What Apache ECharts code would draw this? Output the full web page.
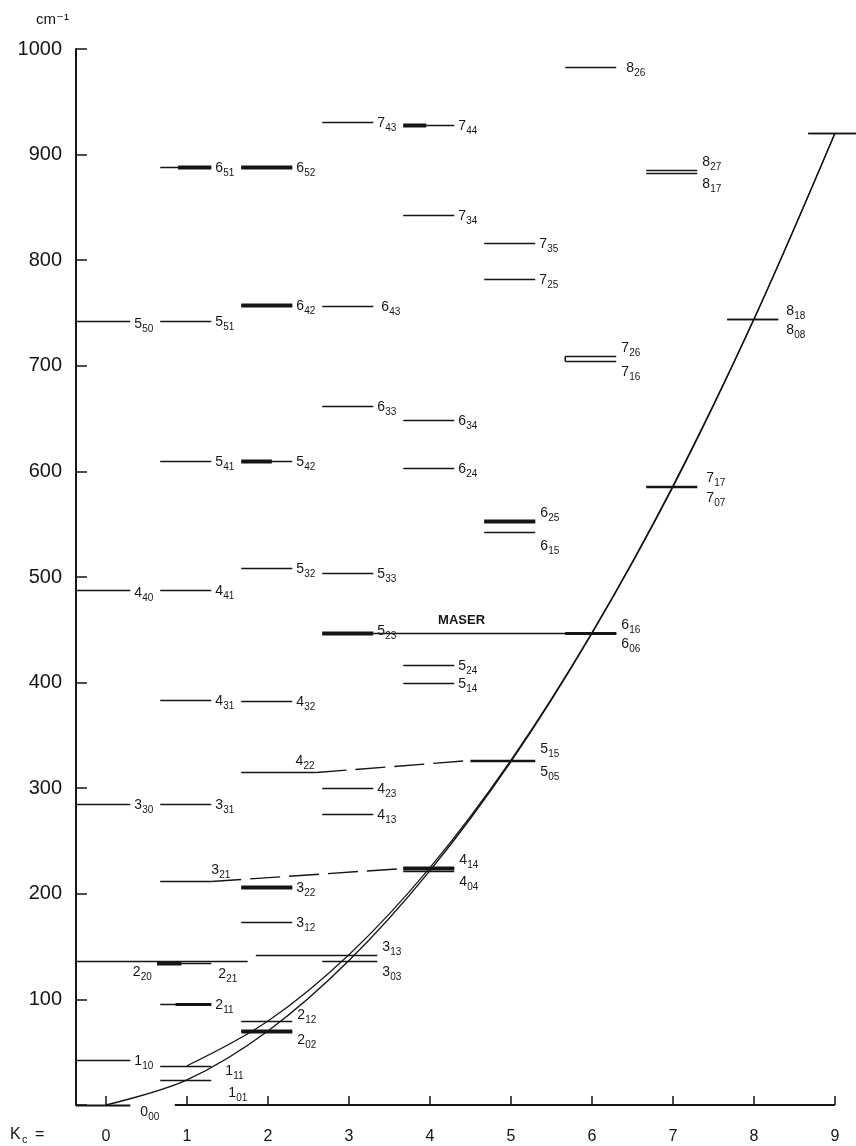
<!DOCTYPE html>
<html>
<head>
<meta charset="utf-8">
<script src="https://cdn.jsdelivr.net/npm/echarts@6/dist/echarts.min.js"></script>
<style>
  html, body { margin: 0; padding: 0; background: #fff; }
  #chart { width: 856px; height: 1146px; }
</style>
</head>
<body>
<div id="chart"></div>
<script>
// Rotational energy levels of H2O, ground vibrational state.
// Names are J_(K-1 K+1); the horizontal position is K+1 (K_c).
const levelNames = [
  '0_00', '1_01', '1_11', '1_10',
  '2_02', '2_12', '2_11', '2_21', '2_20',
  '3_03', '3_13', '3_12', '3_22', '3_21', '3_31', '3_30',
  '4_04', '4_14', '4_13', '4_23', '4_22', '4_32', '4_31', '4_41', '4_40',
  '5_05', '5_15', '5_14', '5_24', '5_23', '5_33', '5_32', '5_42', '5_41', '5_51', '5_50',
  '6_06', '6_16', '6_15', '6_25', '6_24', '6_34', '6_33', '6_43', '6_42', '6_52', '6_51',
  '7_07', '7_17', '7_16', '7_26', '7_25', '7_35', '7_34', '7_44', '7_43',
  '8_08', '8_18', '8_17', '8_27', '8_26',
  '9_09', '9_19'
];
// Level energies, cm^-1
const levelEnergy = [
  0.0, 23.8, 37.1, 42.4,
  70.1, 79.5, 95.2, 134.9, 136.2,
  136.8, 142.3, 173.4, 206.3, 212.2, 285.2, 285.4,
  222.0, 224.8, 275.5, 300.4, 315.8, 382.5, 383.8, 488.1, 488.1,
  325.3, 326.6, 399.5, 416.2, 446.5, 504.0, 508.8, 610.1, 610.3, 742.1, 742.1,
  446.7, 447.3, 542.9, 552.9, 602.8, 649.0, 661.5, 756.7, 757.8, 888.6, 888.6,
  585.3, 586.5, 704.2, 709.6, 782.4, 816.7, 842.4, 927.7, 931.2,
  744.1, 744.2, 882.9, 885.6, 982.9,
  920.2, 920.2
];
// Near-coincident level pairs joined by a horizontal line
const transitionPairs = [['3_21', '4_14'], ['4_22', '5_15'], ['5_23', '6_16']];
const transitionText = ['', '', 'MASER'];

const xTicks = [0, 1, 2, 3, 4, 5, 6, 7, 8, 9];
const yTicks = [0, 100, 200, 300, 400, 500, 600, 700, 800, 900, 1000];

// ---- drawing setup ----
const INK = '#151515';
const FONT = "'Liberation Sans', 'DejaVu Sans', sans-serif";
const X_MIN = -0.37, X_MAX = 9.26;
const SPAN_LO = -0.33, SPAN_HI = 0.30;

// How each level is drawn: span overrides, heavy portions, label placement
const levelStyle = {
  '0_00': { axis: 1, lab: 'r', dx: 6, dy: 6, w: 2 },
  '1_01': { lab: 'rd', dx: 12, dy: 2 },
  '1_11': { lab: 'r', dx: 10, dy: 4 },
  '1_10': { axis: 1, lab: 'r' },
  '2_02': { thick: [0, 1], lab: 'rd', dy: -2 },
  '2_12': { lab: 'ru', dy: 2 },
  '2_11': { thick: [0.3, 1], tw: 3, lab: 'r' },
  '2_21': { lo: 0.63, thick: [0, 0.45], lab: 'b', dx: 7 },
  '2_20': { axis: 1, hi: 1.75, lab: 'b', at: 0.33 },
  '3_03': { hi: 3.35, lab: 'rd' },
  '3_13': { lo: 1.85, hi: 3.35, lab: 'ru' },
  '3_12': { lab: 'r' },
  '3_22': { thick: [0, 1], lab: 'r' },
  '3_21': { lab: 'a', dx: 0 },
  '3_31': { lab: 'r' },
  '3_30': { axis: 1, lab: 'r' },
  '4_04': { lab: 'rd' },
  '4_14': { thick: [0, 1], lab: 'ru' },
  '4_13': { lab: 'r' },
  '4_23': { lab: 'r' },
  '4_22': { hi: 2.6, lab: 'a', dx: -21 },
  '4_32': { lab: 'r' },
  '4_31': { lab: 'r' },
  '4_41': { lab: 'r' },
  '4_40': { axis: 1, lab: 'r', dy: 2 },
  '5_05': { lo: 4.5, lab: 'rd' },
  '5_15': { lo: 4.5, lab: 'ru', dy: -3 },
  '5_14': { lab: 'r' },
  '5_24': { lab: 'r' },
  '5_23': { thick: [0, 1], lab: 'r', dy: -3 },
  '5_33': { lab: 'r' },
  '5_32': { lab: 'r' },
  '5_42': { thick: [0, 0.6], lab: 'r' },
  '5_41': { lab: 'r' },
  '5_51': { lab: 'r' },
  '5_50': { axis: 1, lab: 'r', dy: 2 },
  '6_06': { lab: 'rd' },
  '6_16': { thick: [0, 1], tw: 3, lab: 'ru' },
  '6_15': { lab: 'rd', dy: 3 },
  '6_25': { thick: [0, 1], lab: 'ru' },
  '6_24': { lab: 'r' },
  '6_34': { lab: 'r' },
  '6_33': { lab: 'r' },
  '6_43': { lab: 'r', dx: 4 },
  '6_42': { thick: [0, 1], lab: 'r' },
  '6_52': { thick: [0, 1], lab: 'r' },
  '6_51': { thick: [0.35, 1], lab: 'r' },
  '7_07': { lab: 'rd', dx: 4 },
  '7_17': { lab: 'ru', dx: 4 },
  '7_16': { lab: 'rd' },
  '7_26': { lab: 'ru', joinTo: '7_16' },
  '7_25': { lab: 'r' },
  '7_35': { lab: 'r' },
  '7_34': { lab: 'r' },
  '7_44': { thick: [0, 0.45], lab: 'r' },
  '7_43': { lab: 'r' },
  '8_08': { lab: 'rd', dx: 3 },
  '8_18': { lab: 'ru', dx: 3 },
  '8_17': { lab: 'rd' },
  '8_27': { lab: 'ru' },
  '8_26': { lab: 'r', dx: 6 },
  '9_09': { hi: 9.5, lab: 'n' },
  '9_19': { hi: 9.5, lab: 'n' }
};

function kcOf(name) { return +name.split('_')[1].slice(-1); }
function spanOf(name) {
  const st = levelStyle[name] || {};
  const kc = kcOf(name);
  const lo = st.lo != null ? st.lo : (st.axis ? X_MIN : kc + SPAN_LO);
  const hi = st.hi != null ? st.hi : (st.axis ? 0.3 : kc + SPAN_HI);
  return [lo, hi];
}
function energyOf(name) { return levelEnergy[levelNames.indexOf(name)]; }

function labelEls(name, x, y) {
  const parts = name.split('_');
  return [
    { type: 'text', x: x, y: y,
      style: { text: parts[0], font: '14px ' + FONT, fill: INK, verticalAlign: 'middle', align: 'left' } },
    { type: 'text', x: x + 8, y: y + 5,
      style: { text: parts[1], font: '10px ' + FONT, fill: INK, verticalAlign: 'middle', align: 'left' } }
  ];
}

function renderLevel(params, api) {
  const name = levelNames[params.dataIndex];
  const E = levelEnergy[params.dataIndex];
  const st = levelStyle[name] || {};
  const [lo, hi] = spanOf(name);
  const p1 = api.coord([lo, E]);
  const p2 = api.coord([hi, E]);
  const y = Math.round(p1[1]) + 0.5;
  const children = [{
    type: 'line',
    shape: { x1: p1[0], y1: y, x2: p2[0], y2: y },
    style: { stroke: INK, lineWidth: st.w || 1.5 }
  }];
  if (st.thick) {
    const a = p1[0] + (p2[0] - p1[0]) * st.thick[0];
    const b = p1[0] + (p2[0] - p1[0]) * st.thick[1];
    const tw = st.tw || 4;
    children.push({ type: 'rect', shape: { x: a, y: y - tw / 2, width: b - a, height: tw }, style: { fill: INK } });
  }
  if (st.joinTo) {
    const q = api.coord([lo, energyOf(st.joinTo)]);
    children.push({ type: 'line', shape: { x1: p1[0], y1: y, x2: p1[0], y2: Math.round(q[1]) + 0.5 },
      style: { stroke: INK, lineWidth: 1.5 } });
  }
  let lx = null, ly = null;
  switch (st.lab) {
    case 'r': lx = p2[0] + 4; ly = y + 1; break;
    case 'ru': lx = p2[0] + 5; ly = y - 8; break;
    case 'rd': lx = p2[0] + 5; ly = y + 11; break;
    case 'a': lx = p2[0]; ly = y - 11; break;
    case 'b': lx = st.at != null ? api.coord([st.at, E])[0] : p2[0]; ly = y + 11; break;
  }
  if (lx !== null) {
    lx += st.dx || 0; ly += st.dy || 0;
    children.push(...labelEls(name, lx, ly));
  }
  return { type: 'group', children: children };
}

function renderTransition(params, api) {
  const pair = transitionPairs[params.dataIndex];
  const a = spanOf(pair[0])[1], b = spanOf(pair[1])[0];
  const p = api.coord([a, energyOf(pair[0])]);
  const q = api.coord([b, energyOf(pair[1])]);
  const label = transitionText[params.dataIndex];
  const children = [{
    type: 'line',
    shape: { x1: p[0], y1: Math.round(p[1]) + 0.5, x2: q[0], y2: Math.round(q[1]) + 0.5 },
    style: { stroke: INK, lineWidth: 1.4, lineDash: label ? null : [30, 9] }
  }];
  if (label) {
    children.push({ type: 'text', x: p[0] + (q[0] - p[0]) * 0.46, y: p[1] - 13,
      style: { text: label, font: 'bold 13px ' + FONT, fill: INK, align: 'center', verticalAlign: 'middle' } });
  }
  return { type: 'group', children: children };
}

// Smooth envelope through the J_0J and J_1J levels
const curve0 = xTicks.map(k => [k, energyOf(k + '_0' + k)]);
const curve1 = xTicks.filter(k => k > 0).map(k => [k, energyOf(k + '_1' + k)]);

const chart = echarts.init(document.getElementById('chart'), null, { renderer: 'canvas' });
chart.setOption({
  backgroundColor: '#fff',
  animation: false,
  grid: { left: 76, right: 0, top: 49, bottom: 41 },
  xAxis: {
    type: 'value', min: X_MIN, max: X_MAX,
    axisLine: { show: false, onZero: false },
    splitLine: { show: false },
    axisTick: { inside: true, length: 9, customValues: xTicks, lineStyle: { color: INK, width: 1.5 } },
    axisLabel: { customValues: xTicks, margin: 24, color: INK, fontSize: 16, fontFamily: FONT }
  },
  yAxis: {
    type: 'value', min: 0, max: 1000, interval: 100,
    axisLine: { show: true, onZero: false, lineStyle: { color: INK, width: 2 } },
    splitLine: { show: false },
    axisTick: { inside: true, length: 11, lineStyle: { color: INK, width: 1.5 } },
    axisLabel: { margin: 14, color: INK, fontSize: 20, fontFamily: FONT,
      formatter: v => (v === 0 ? '' : String(v)) }
  },
  graphic: [
    { type: 'text', left: 36, top: 12,
      style: { text: 'cm⁻¹', font: '15px ' + FONT, fill: INK } },
    { type: 'group', left: 10, top: 1127, children: [
      { type: 'text', x: 0, y: 0, style: { text: 'K', font: '16px ' + FONT, fill: INK } },
      { type: 'text', x: 12, y: 7, style: { text: 'c', font: '11px ' + FONT, fill: INK } },
      { type: 'text', x: 25, y: 0, style: { text: '=', font: '16px ' + FONT, fill: INK } }
    ] }
  ],
  series: [
    {
      // K_c axis baseline, broken around the 0_00 label
      type: 'line', data: [[0.85, 0], [9, 0]], symbol: 'none', silent: true,
      lineStyle: { color: INK, width: 2 }
    },
    {
      type: 'line', data: curve0, smooth: 0.35, symbol: 'none', silent: true,
      lineStyle: { color: INK, width: 1.4 }
    },
    {
      type: 'line', data: curve1, smooth: 0.35, symbol: 'none', silent: true,
      lineStyle: { color: INK, width: 1.2 }
    },
    {
      type: 'custom', renderItem: renderTransition, silent: true,
      data: transitionPairs.map(p => [spanOf(p[0])[1], energyOf(p[0]), spanOf(p[1])[0], energyOf(p[1])]),
      encode: { x: [0, 2], y: [1, 3] }
    },
    {
      type: 'custom', renderItem: renderLevel, silent: true, clip: false,
      data: levelNames.map((n, i) => [kcOf(n), levelEnergy[i]]),
      encode: { x: 0, y: 1 }
    }
  ]
});
</script>
</body>
</html>
